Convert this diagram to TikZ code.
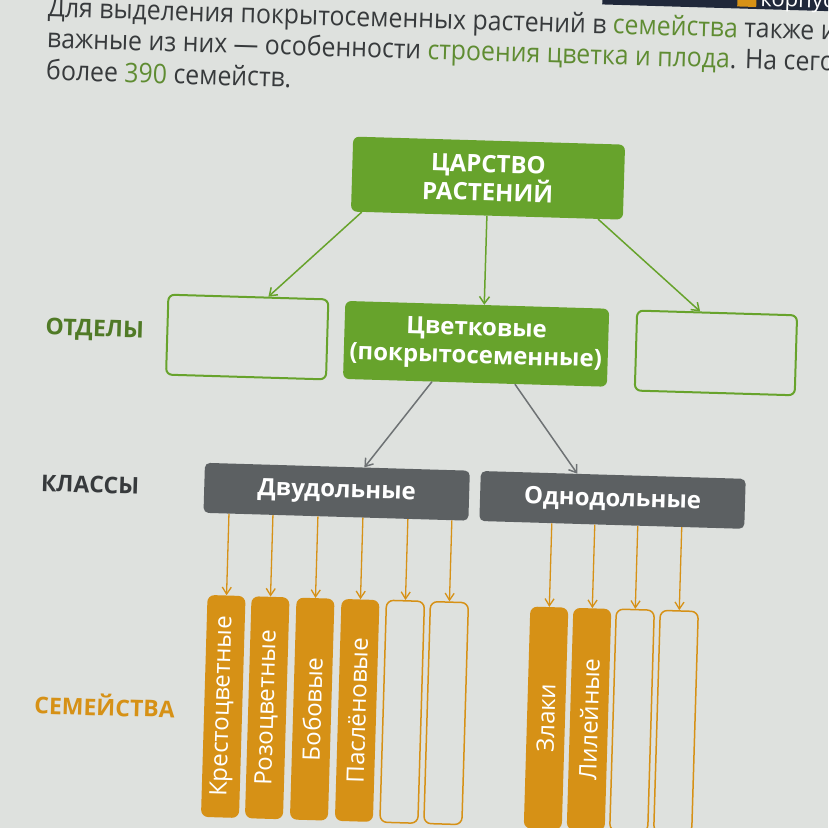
\documentclass[tikz,border=0pt]{standalone}
\usepackage{fontspec}
\setmainfont{Open Sans}
\newfontfamily\bodyfont{Open Sans}[FakeStretch=0.92]
\usetikzlibrary{arrows.meta}
\definecolor{screengrey}{RGB}{222,225,222}
\definecolor{inkgrey}{RGB}{55,58,60}
\definecolor{wordgreen}{RGB}{95,140,50}
\definecolor{labelgreen}{RGB}{80,122,38}
\definecolor{plantgreen}{RGB}{103,163,44}
\definecolor{classgrey}{RGB}{92,96,98}
\definecolor{arrowgrey}{RGB}{110,114,116}
\definecolor{famorange}{RGB}{214,145,22}
\definecolor{navybar}{RGB}{32,40,58}
\begin{document}
\begin{tikzpicture}[x=1pt,y=-1pt,
  textline/.style={anchor=base west,inner sep=0pt,text=inkgrey,font=\bodyfont\fontsize{27}{30}\selectfont},
  kingdombox/.style={fill=plantgreen,text=white,rounded corners=6pt,inner sep=0pt,align=center,font=\fontsize{24}{27}\selectfont\bfseries},
  emptybox/.style={draw=plantgreen,line width=2pt,fill=screengrey,rounded corners=6pt,inner sep=0pt,minimum width=160pt,minimum height=80pt},
  classbox/.style={fill=classgrey,text=white,rounded corners=5pt,inner sep=0pt,minimum width=265pt,minimum height=50pt,font=\fontsize{24}{27}\selectfont\bfseries},
  famfull/.style={fill=famorange,text=white,rounded corners=7pt,inner sep=0pt,minimum width=222pt,minimum height=38pt,rotate=90,font=\fontsize{24}{27}\selectfont},
  famempty/.style={draw=famorange,line width=1.5pt,fill=screengrey,rounded corners=7pt,inner sep=0pt,minimum width=222pt,minimum height=38pt,rotate=90},
  rowlabel/.style={anchor=west,inner sep=0pt,font=\fontsize{23}{26}\selectfont\bfseries},
  greenarrow/.style={draw=plantgreen,line width=1.5pt,-{Straight Barb[length=7pt,width=10pt]}},
  greyarrow/.style={draw=arrowgrey,line width=1.5pt,-{Straight Barb[length=7pt,width=10pt]}},
  orangearrow/.style={draw=famorange,line width=1.3pt,-{Straight Barb[length=7pt,width=9pt]}}]
\useasboundingbox (0,0) rectangle (828,828);
\clip (0,0) rectangle (828,828);
\fill[screengrey] (0,0) rectangle (828,828);
\begin{scope}[rotate around={-1.7:(414,414)},transform shape]
% text above the scheme
\node[textline] (line1) at (36,28) {Для выделения покрытосеменных растений в \textcolor{wordgreen}{семейства} также и};
\node[textline] (line2) at (36,59) {важные из них — особенности \textcolor{wordgreen}{строения цветка и плода}. На сего};
\node[textline] (line3) at (36,91) {более \textcolor{wordgreen}{390} семейств.};
\fill[navybar] (590,-60) rectangle (900,-1);
\fill[famorange] (725,-16) rectangle (744,-3);
\node[anchor=base west,inner sep=0pt,text=white,font=\fontsize{22}{24}\selectfont] (corpus) at (748,-4) {корпус};
% row labels
\node[rowlabel,text=labelgreen] (lbdiv) at (43,340) {ОТДЕЛЫ};
\node[rowlabel,text=inkgrey] (lbcls) at (43,494) {КЛАССЫ};
\node[rowlabel,text=famorange] (lbfam) at (43,714) {СЕМЕЙСТВА};
% kingdom and divisions
\node[kingdombox,minimum width=272pt,minimum height=75pt] (kingdom) at (481,176) {ЦАРСТВО\\РАСТЕНИЙ};
\node[emptybox] (div1) at (245,342) {};
\node[kingdombox,font=\fontsize{24}{28}\selectfont\bfseries,minimum width=264pt,minimum height=78pt] (angio) at (474,342) {Цветковые\\(покрытосеменные)};
\node[emptybox] (div3) at (714,344) {};
\draw[greenarrow] ([xshift=11pt]kingdom.south west) -- ([xshift=20pt]div1.north);
\draw[greenarrow] (kingdom.south) -- ([xshift=7pt]angio.north);
\draw[greenarrow] ([xshift=-25pt]kingdom.south east) -- ([xshift=-17pt]div3.north);
% classes
\node[classbox] (dicot) at (339,494) {Двудольные};
\node[classbox] (monocot) at (615,494) {Однодольные};
\draw[greyarrow] ([xshift=-43pt]angio.south) -- ([xshift=27pt]dicot.north);
\draw[greyarrow] ([xshift=40pt]angio.south) -- ([xshift=-36pt]monocot.north);
% families
\node[famfull] (fam1) at (232,712) {Крестоцветные};
\node[famfull] (fam2) at (276,712) {Розоцветные};
\node[famfull] (fam3) at (321,712) {Бобовые};
\node[famfull] (fam4) at (366,712) {Паслёновые};
\node[famempty] (fam5) at (411,712) {};
\node[famempty] (fam6) at (455,712) {};
\node[famfull] (fam7) at (555,714) {Злаки};
\node[famfull] (fam8) at (598,714) {Лилейные};
\node[famempty] (fam9) at (641,714) {};
\node[famempty] (fam10) at (685,714) {};
\draw[orangearrow] ([xshift=-107pt]dicot.south) -- (fam1.east);
\draw[orangearrow] ([xshift=-63pt]dicot.south) -- (fam2.east);
\draw[orangearrow] ([xshift=-18pt]dicot.south) -- (fam3.east);
\draw[orangearrow] ([xshift=27pt]dicot.south) -- (fam4.east);
\draw[orangearrow] ([xshift=72pt]dicot.south) -- (fam5.east);
\draw[orangearrow] ([xshift=116pt]dicot.south) -- (fam6.east);
\draw[orangearrow] ([xshift=-60pt]monocot.south) -- (fam7.east);
\draw[orangearrow] ([xshift=-17pt]monocot.south) -- (fam8.east);
\draw[orangearrow] ([xshift=26pt]monocot.south) -- (fam9.east);
\draw[orangearrow] ([xshift=70pt]monocot.south) -- (fam10.east);
\end{scope}
\end{tikzpicture}
\end{document}
